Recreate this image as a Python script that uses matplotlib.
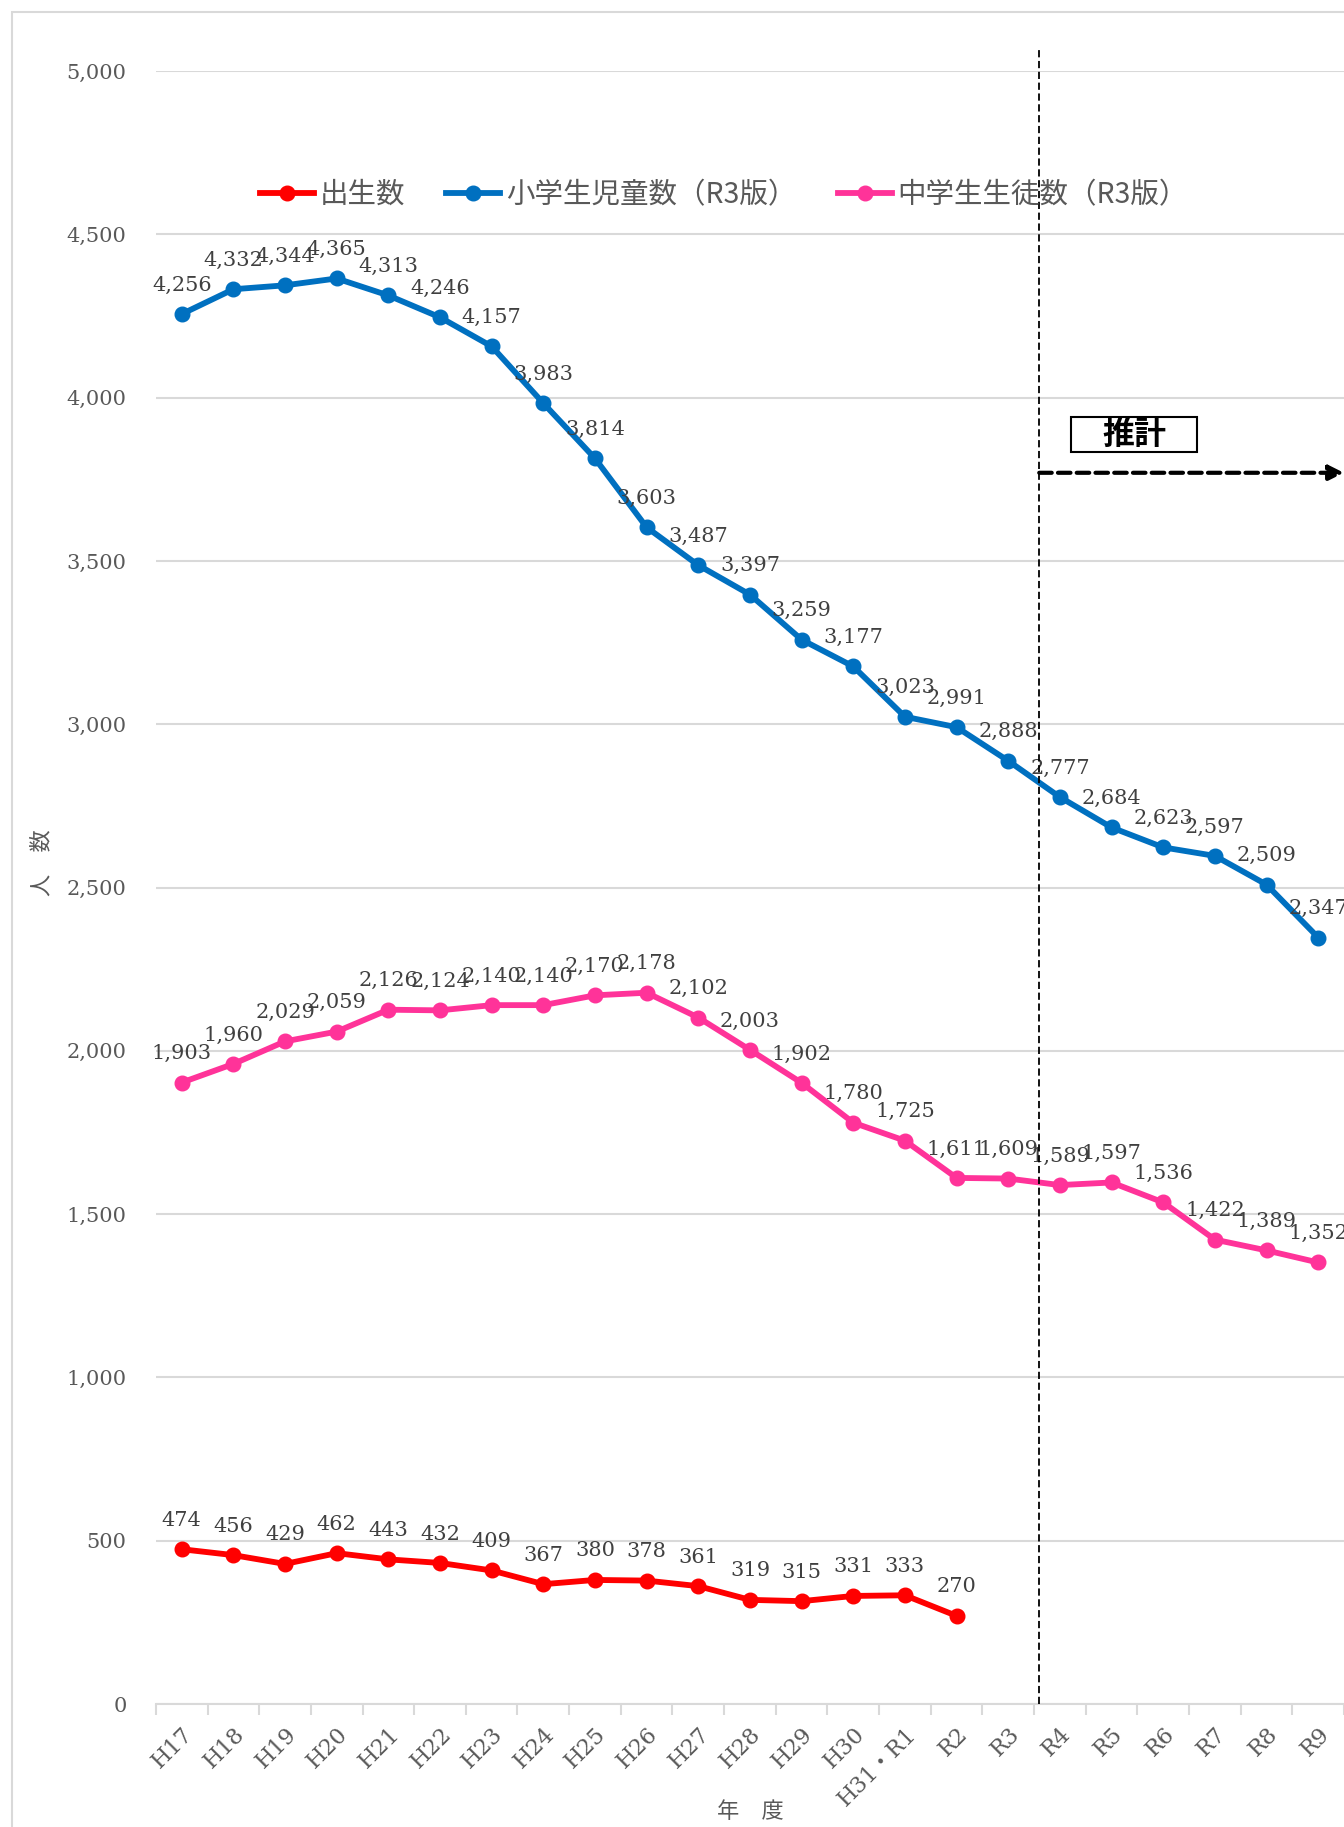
import matplotlib
matplotlib.use('Agg')
import matplotlib.pyplot as plt
from matplotlib.patches import Rectangle
import matplotlib.transforms as mtrans

# フォント設定（数字はセリフ、日本語はCJK）
plt.rcParams['font.family'] = ['DejaVu Serif', 'Noto Sans CJK JP']

# データ
years = ['H17', 'H18', 'H19', 'H20', 'H21', 'H22', 'H23', 'H24', 'H25', 'H26',
         'H27', 'H28', 'H29', 'H30', 'H31・R1', 'R2', 'R3', 'R4', 'R5', 'R6',
         'R7', 'R8', 'R9']
births = [474, 456, 429, 462, 443, 432, 409, 367, 380, 378, 361, 319, 315, 331,
          333, 270]
elementary = [4256, 4332, 4344, 4365, 4313, 4246, 4157, 3983, 3814, 3603, 3487,
              3397, 3259, 3177, 3023, 2991, 2888, 2777, 2684, 2623, 2597, 2509,
              2347]
junior = [1903, 1960, 2029, 2059, 2126, 2124, 2140, 2140, 2170, 2178, 2102,
          2003, 1902, 1780, 1725, 1611, 1609, 1589, 1597, 1536, 1422, 1389, 1352]
series_names = ['出生数', '小学生児童数（R3版）', '中学生生徒数（R3版）']
series_colors = ['#FF0000', '#0070C0', '#FF3399']
estimate_start = 16.6   # R3とR4の間
arrow_level = 3770

fig = plt.figure(figsize=(13.44, 18.27), dpi=100)
ax = fig.add_axes([0.116, 0.0673, 0.884, 0.8938])

# 外枠
fig.patches.append(Rectangle((12 / 1344, -0.1), 1.2, 1 - 12 / 1827 + 0.1,
                             transform=fig.transFigure, fill=False,
                             edgecolor='#D9D9D9', lw=1.5, zorder=0))

x = list(range(len(years)))
lines = []
for vals, name, col in zip([births, elementary, junior], series_names, series_colors):
    xs = x[:len(vals)]
    ln, = ax.plot(xs, vals, color=col, lw=4.2, marker='o', markersize=10.5,
                  label=name, zorder=3)
    lines.append(ln)
    for xi, v in zip(xs, vals):
        ax.annotate(f'{v:,}', (xi, v), xytext=(0, 14), textcoords='offset points',
                    ha='center', va='bottom', fontsize=15, color='#404040',
                    family='DejaVu Serif', zorder=4)

ax.set_xlim(-0.5, len(years) - 0.5)
ax.set_ylim(0, 5000)
ax.set_yticks(range(0, 5001, 500))
ax.set_yticklabels([f'{v:,}' for v in range(0, 5001, 500)])
ax.grid(axis='y', color='#D9D9D9', lw=1.5)
ax.set_axisbelow(True)

for s in ['top', 'right', 'left']:
    ax.spines[s].set_visible(False)
ax.spines['bottom'].set_color('#D9D9D9')
ax.spines['bottom'].set_linewidth(1.5)

ax.tick_params(axis='y', length=0, labelsize=15, labelcolor='#595959', pad=21)
ax.set_xticks(x)
ax.set_xticklabels(years, rotation=45, ha='right', va='top',
                   rotation_mode='anchor', fontsize=16, color='#595959')
ax.tick_params(axis='x', which='major', length=0, pad=14)
ax.set_xticks([i - 0.5 for i in range(len(years) + 1)], minor=True)
ax.tick_params(axis='x', which='minor', length=8, color='#D9D9D9', width=1.5)

ax.set_ylabel('人　数', fontsize=16, color='#595959', family='Noto Sans CJK JP')
ax.yaxis.set_label_coords(-0.086, 0.515)
ax.set_xlabel('年　度', fontsize=16, color='#595959', family='Noto Sans CJK JP',
              va='center')
ax.xaxis.set_label_coords(0.5, -0.066)

# 推計区分線
trans = mtrans.blended_transform_factory(ax.transData, ax.transAxes)
ax.plot([estimate_start, estimate_start], [0, 1.014], transform=trans,
        color='black', lw=1.3, ls=(0, (4, 2)), clip_on=False, zorder=5)
ax.annotate('', xy=(len(years) - 0.5, arrow_level),
            xytext=(estimate_start, arrow_level),
            arrowprops=dict(arrowstyle='-|>', color='black', lw=3,
                            linestyle=(0, (3, 1.5)), mutation_scale=22,
                            shrinkA=0, shrinkB=0),
            annotation_clip=False, zorder=5)
ax.add_patch(Rectangle((17.22, 3833), 2.44, 108, facecolor='white',
                       edgecolor='black', lw=1.5, zorder=5))
ax.text(18.44, 3887, '推計', ha='center', va='center', fontsize=23,
        family='Noto Sans CJK JP', fontweight='bold', color='black', zorder=6)

leg = ax.legend(handles=lines, loc='center', bbox_to_anchor=(0.478, 0.924),
                ncol=3, frameon=False, handlelength=1.9,
                columnspacing=1.45, handletextpad=0.2,
                prop={'family': 'Noto Sans CJK JP', 'size': 20.5})
for t in leg.get_texts():
    t.set_color('#595959')

fig.savefig('out.png', dpi=100)
